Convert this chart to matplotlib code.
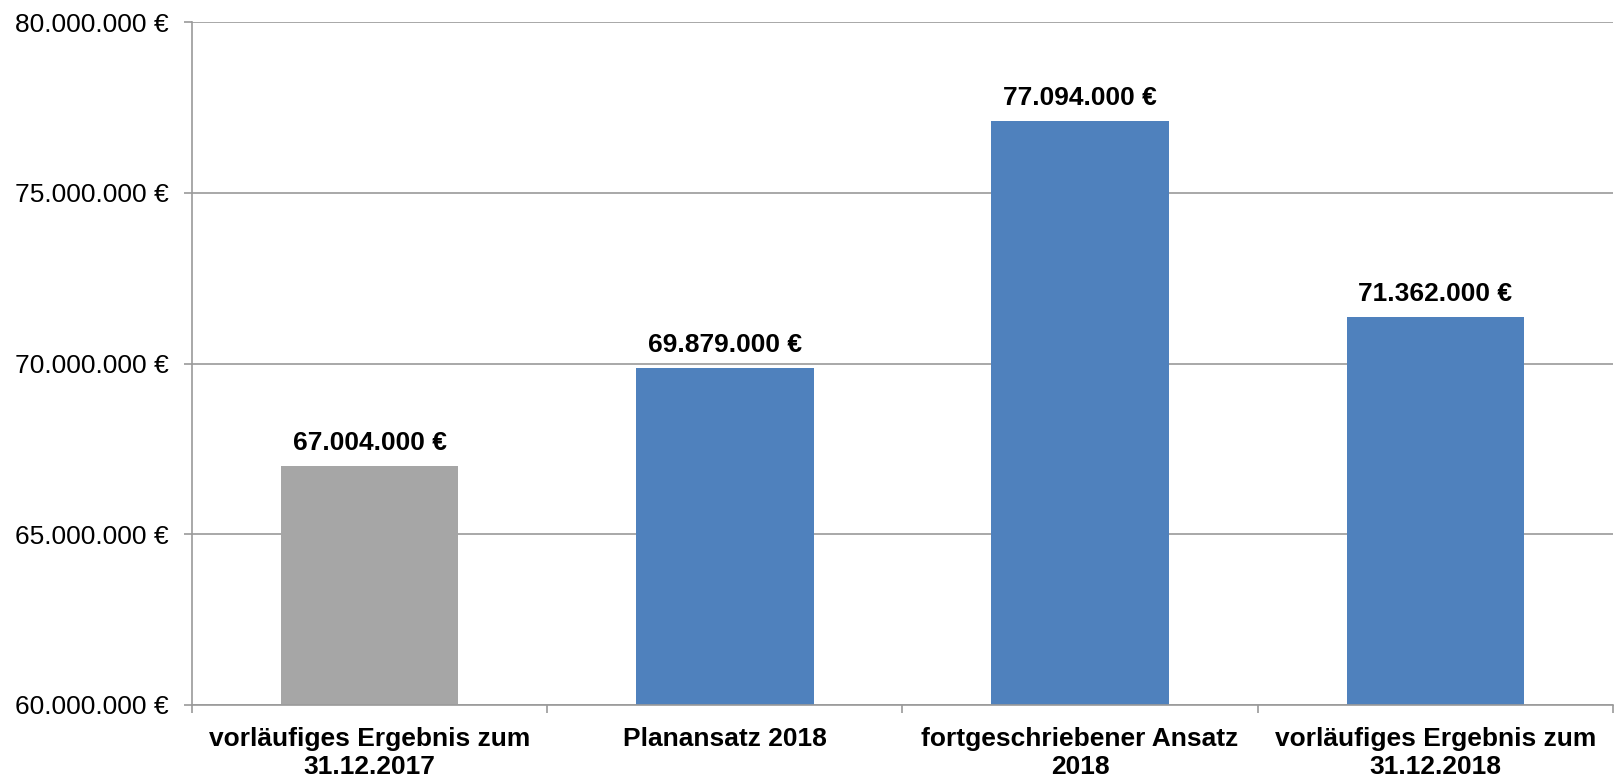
import matplotlib

matplotlib.use("Agg")
import matplotlib.pyplot as plt
from matplotlib.ticker import FuncFormatter, FixedLocator

# --- data --------------------------------------------------------------------
CATEGORIES = [
    "vorläufiges Ergebnis zum\n31.12.2017",
    "Planansatz 2018",
    "fortgeschriebener Ansatz\n2018",
    "vorläufiges Ergebnis zum\n31.12.2018",
]
VALUES = [67004000, 69879000, 77094000, 71362000]
COLORS = ["#A6A6A6", "#4F81BD", "#4F81BD", "#4F81BD"]

GRID = "#9A9A9A"
FS = 19


def euro(v, _pos=None):
    return f"{v:,.0f}".replace(",", ".") + " €"


plt.rcParams["font.family"] = ["Liberation Sans", "DejaVu Sans"]

fig = plt.figure(figsize=(16.15, 7.81), dpi=100)
ax = fig.add_axes([192 / 1615, 1 - 705 / 781, (1613 - 192) / 1615, (705 - 22) / 781])

x = list(range(len(VALUES)))
bars = ax.bar(x, VALUES, width=0.5, color=COLORS, zorder=2)

ax.set_xlim(-0.5, len(VALUES) - 0.5)
ax.set_ylim(60000000, 80000000)
ax.set_yticks(range(60000000, 80000001, 5000000))
ax.yaxis.set_major_formatter(FuncFormatter(euro))
ax.grid(axis="y", color=GRID, lw=1.2, zorder=0)

# category boundaries carry the x ticks, labels sit at centres
ax.xaxis.set_major_locator(FixedLocator([i - 0.5 for i in range(len(VALUES) + 1)]))
ax.set_xticklabels([])
ax.set_xticks(x, minor=True)
ax.set_xticklabels(CATEGORIES, minor=True, fontsize=FS, fontweight="bold",
                   linespacing=1.18)
ax.tick_params(axis="x", which="minor", length=0, pad=16)
ax.tick_params(axis="x", which="major", length=6, color=GRID, width=1.2)
ax.tick_params(axis="y", length=6, color=GRID, width=1.2, labelsize=FS, pad=11)

for side in ("top", "right"):
    ax.spines[side].set_visible(False)
for side in ("left", "bottom"):
    ax.spines[side].set_color(GRID)
    ax.spines[side].set_linewidth(1.2)

for b, v in zip(bars, VALUES):
    ax.annotate(euro(v), (b.get_x() + b.get_width() / 2, v),
                xytext=(0, 11.5), textcoords="offset points",
                ha="center", va="baseline", fontsize=FS, fontweight="bold")

fig.savefig("out.png", dpi=100, facecolor="white")
